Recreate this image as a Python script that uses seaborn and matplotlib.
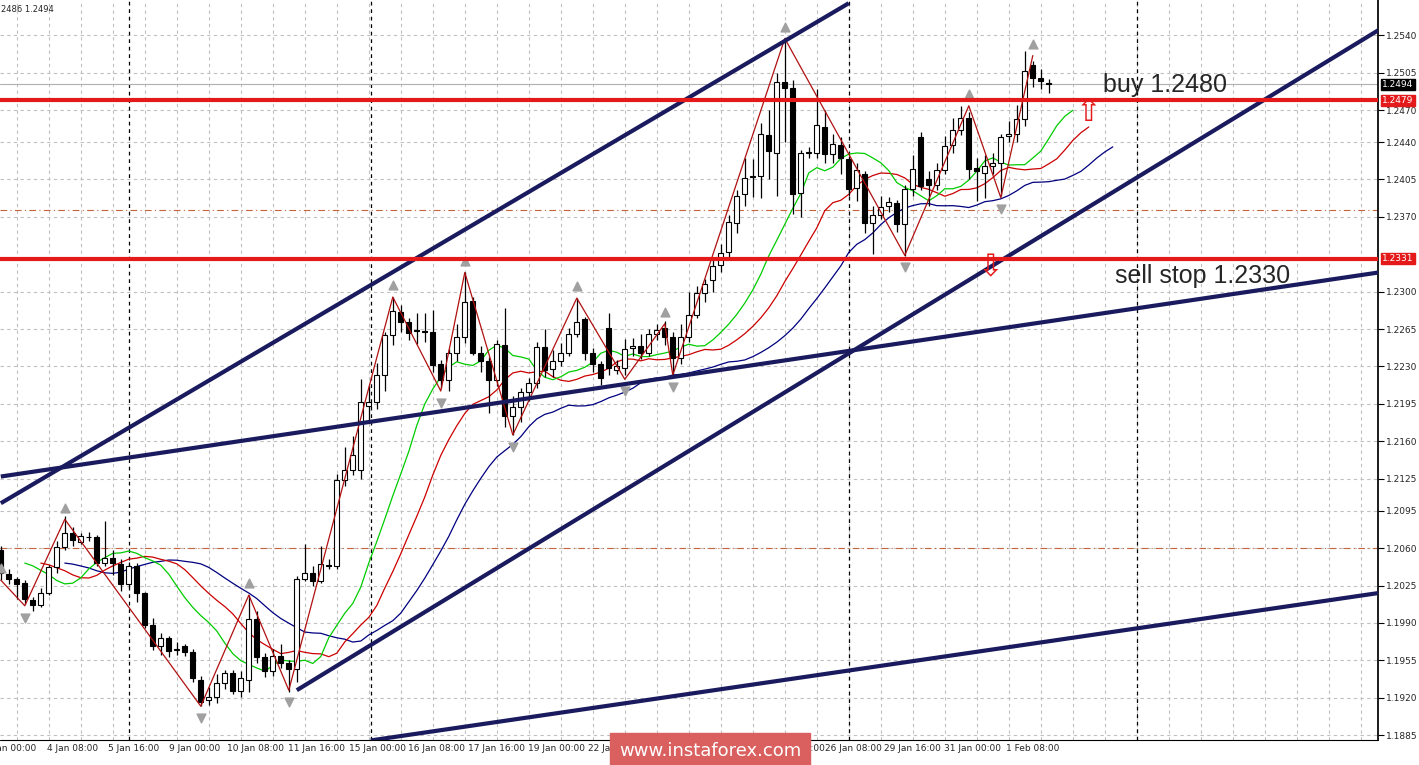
import numpy as np
import pandas as pd
import matplotlib
matplotlib.use("Agg")
import matplotlib.pyplot as plt
import seaborn as sns

# H4 candles, index = bar number from the left edge
opens = [1.2058, 1.2036, 1.2031, 1.2027, 1.2011, 1.2007, 1.2018, 1.2042, 1.2061, 1.2074,
         1.2066, 1.2070, 1.2070, 1.2046, 1.2051, 1.2045, 1.2026, 1.2043, 1.2018, 1.1988,
         1.1968, 1.1976, 1.1965, 1.1968, 1.1963, 1.1937, 1.1918, 1.1921, 1.1934, 1.1943,
         1.1926, 1.1937, 1.1994, 1.1958, 1.1945, 1.1959, 1.1952, 1.1947, 1.2031, 1.2037,
         1.2029, 1.2044, 1.2043, 1.2124, 1.2133, 1.2133, 1.2193, 1.2197, 1.2222, 1.2259,
         1.2281, 1.2272, 1.2264, 1.2263, 1.2262, 1.2232, 1.2217, 1.2243, 1.2258, 1.2291,
         1.2243, 1.2235, 1.2217, 1.2250, 1.2184, 1.2192, 1.2206, 1.2215, 1.2248, 1.2228,
         1.2235, 1.2243, 1.2260, 1.2274, 1.2243, 1.2232, 1.2266, 1.2227, 1.2229, 1.2247,
         1.2249, 1.2243, 1.2260, 1.2266, 1.2258, 1.2238, 1.2258, 1.2278, 1.2299, 1.2311,
         1.2325, 1.2337, 1.2364, 1.2391, 1.2407, 1.2408, 1.2447, 1.2430, 1.2496, 1.2491,
         1.2392, 1.2430, 1.2430, 1.2454, 1.2429, 1.2437, 1.2424, 1.2397, 1.2410, 1.2364,
         1.2372, 1.2380, 1.2383, 1.2363, 1.2396, 1.2445, 1.2405, 1.2400, 1.2414, 1.2437,
         1.2451, 1.2463, 1.2416, 1.2411, 1.2418, 1.2420, 1.2446, 1.2448, 1.2462, 1.2512,
         1.2500, 1.2495]
closes = [1.2037, 1.2031, 1.2026, 1.2012, 1.2007, 1.2018, 1.2042, 1.2061, 1.2074, 1.2068,
          1.2071, 1.2070, 1.2046, 1.2051, 1.2046, 1.2026, 1.2043, 1.2018, 1.1988, 1.1968,
          1.1976, 1.1964, 1.1966, 1.1963, 1.1938, 1.1916, 1.1921, 1.1934, 1.1943, 1.1926,
          1.1938, 1.1994, 1.1958, 1.1945, 1.1959, 1.1952, 1.1947, 1.2031, 1.2037, 1.2029,
          1.2045, 1.2043, 1.2124, 1.2133, 1.2147, 1.2197, 1.2197, 1.2222, 1.2259, 1.2282,
          1.2272, 1.2261, 1.2263, 1.2262, 1.2231, 1.2217, 1.2243, 1.2258, 1.2290, 1.2243,
          1.2235, 1.2217, 1.2251, 1.2184, 1.2192, 1.2206, 1.2215, 1.2248, 1.2227, 1.2235,
          1.2243, 1.2260, 1.2272, 1.2243, 1.2232, 1.2219, 1.2229, 1.2230, 1.2246, 1.2249,
          1.2243, 1.2260, 1.2264, 1.2258, 1.2238, 1.2258, 1.2278, 1.2299, 1.2307, 1.2324,
          1.2336, 1.2365, 1.2390, 1.2406, 1.2408, 1.2448, 1.2432, 1.2496, 1.2491, 1.2391,
          1.2430, 1.2431, 1.2456, 1.2429, 1.2438, 1.2425, 1.2396, 1.2414, 1.2364, 1.2372,
          1.2379, 1.2384, 1.2363, 1.2396, 1.2415, 1.2399, 1.2400, 1.2414, 1.2436, 1.2451,
          1.2463, 1.2415, 1.2413, 1.2418, 1.2420, 1.2445, 1.2448, 1.2462, 1.2507, 1.2500,
          1.2497, 1.2494]
highs = [1.2062, 1.2040, 1.2033, 1.2030, 1.2014, 1.2023, 1.2044, 1.2067, 1.2090, 1.2080,
         1.2074, 1.2075, 1.2072, 1.2085, 1.2058, 1.2050, 1.2047, 1.2046, 1.2019, 1.1995,
         1.1981, 1.1978, 1.1972, 1.1970, 1.1966, 1.1940, 1.1930, 1.1942, 1.1946, 1.1946,
         1.1945, 1.2016, 1.2001, 1.1962, 1.1966, 1.1970, 1.1955, 1.2034, 1.2064, 1.2043,
         1.2062, 1.2050, 1.2129, 1.2155, 1.2165, 1.2218, 1.2212, 1.2233, 1.2262, 1.2295,
         1.2288, 1.2275, 1.2280, 1.2280, 1.2283, 1.2236, 1.2246, 1.2270, 1.2318, 1.2295,
         1.2249, 1.2239, 1.2255, 1.2285, 1.2202, 1.2210, 1.2219, 1.2253, 1.2265, 1.2245,
         1.2252, 1.2266, 1.2294, 1.2276, 1.2247, 1.2235, 1.2280, 1.2236, 1.2256, 1.2257,
         1.2260, 1.2265, 1.2270, 1.2273, 1.2262, 1.2270, 1.2300, 1.2305, 1.2312, 1.2330,
         1.2345, 1.2372, 1.2395, 1.2425, 1.2424, 1.2458, 1.2470, 1.2505, 1.2537, 1.2498,
         1.2433, 1.2435, 1.2490, 1.2470, 1.2448, 1.2445, 1.2427, 1.2420, 1.2413, 1.2380,
         1.2390, 1.2389, 1.2386, 1.2400, 1.2428, 1.2449, 1.2413, 1.2420, 1.2446, 1.2463,
         1.2474, 1.2468, 1.2425, 1.2428, 1.2430, 1.2448, 1.2460, 1.2475, 1.2525, 1.2516,
         1.2508, 1.2499]
lows = [1.2030, 1.2026, 1.2012, 1.2008, 1.2001, 1.2005, 1.2016, 1.2037, 1.2058, 1.2062,
        1.2064, 1.2067, 1.2043, 1.2043, 1.2035, 1.2020, 1.2024, 1.2010, 1.1985, 1.1965,
        1.1960, 1.1958, 1.1960, 1.1959, 1.1935, 1.1912, 1.1913, 1.1915, 1.1928, 1.1923,
        1.1921, 1.1925, 1.1952, 1.1939, 1.1940, 1.1948, 1.1925, 1.1935, 1.2029, 1.2025,
        1.2027, 1.2040, 1.2040, 1.2118, 1.2128, 1.2125, 1.2180, 1.2190, 1.2207, 1.2250,
        1.2262, 1.2255, 1.2251, 1.2253, 1.2225, 1.2210, 1.2207, 1.2235, 1.2252, 1.2241,
        1.2225, 1.2186, 1.2212, 1.2173, 1.2166, 1.2178, 1.2198, 1.2210, 1.2220, 1.2220,
        1.2230, 1.2240, 1.2258, 1.2236, 1.2225, 1.2213, 1.2222, 1.2223, 1.2222, 1.2240,
        1.2237, 1.2240, 1.2255, 1.2250, 1.2222, 1.2232, 1.2253, 1.2275, 1.2290, 1.2300,
        1.2318, 1.2330, 1.2355, 1.2380, 1.2389, 1.2388, 1.2405, 1.2390, 1.2440, 1.2373,
        1.2370, 1.2425, 1.2425, 1.2420, 1.2420, 1.2410, 1.2390, 1.2385, 1.2355, 1.2335,
        1.2368, 1.2375, 1.2356, 1.2333, 1.2390, 1.2395, 1.2380, 1.2395, 1.2410, 1.2430,
        1.2447, 1.2405, 1.2385, 1.2388, 1.2410, 1.2390, 1.2440, 1.2440, 1.2455, 1.2492,
        1.2490, 1.2486]

# zigzag pivots (bar, price)
zz_bar = [0, 3, 8, 25, 31, 36, 49, 55, 58, 64, 72, 78, 83, 84, 98, 113, 121, 125, 129]
zz_price = [1.2030, 1.2006, 1.2087, 1.1912, 1.2016, 1.1927, 1.2295, 1.2207, 1.2318, 1.2166,
            1.2294, 1.2218, 1.2270, 1.2222, 1.2537, 1.2334, 1.2474, 1.2388, 1.2521]

# trend lines: (bar0, price0, bar1, price1)
trend_lines = [(0, 1.2102, 106, 1.2570),
               (37, 1.1927, 172.25, 1.2545),
               (0, 1.2127, 172.25, 1.2318),
               (46.25, 1.1880, 172.25, 1.2018)]

levels_red = [1.2479, 1.2331]
levels_dash = [1.2376, 1.2060]
current_price = 1.2494

y_ticks = [1.2540, 1.2505, 1.2470, 1.2440, 1.2405, 1.2370, 1.2300, 1.2265, 1.2230, 1.2195,
           1.2160, 1.2125, 1.2095, 1.2060, 1.2025, 1.1990, 1.1955, 1.1920, 1.1885]
time_labels = ["3 Jan 00:00", "4 Jan 08:00", "5 Jan 16:00", "9 Jan 00:00", "10 Jan 08:00",
               "11 Jan 16:00", "15 Jan 00:00", "16 Jan 08:00", "17 Jan 16:00", "19 Jan 00:00",
               "22 Jan 08:00", "23 Jan 16:00", "24 Jan 00:00", "25 Jan 08:00", "26 Jan 08:00",
               "29 Jan 16:00", "31 Jan 00:00", "1 Feb 08:00"]
time_bars = [1.2, 9, 16.6, 24.2, 31.8, 39.4, 47.1, 54.5, 62, 69.5, 77, 84.5, 92, 99.5, 106.6, 114,
             121.5, 129]
separators = [16, 46.25, 106, 142]

sns.set_theme(style="white")
plt.rcParams['font.family'] = ['DejaVu Sans']

df = pd.DataFrame({"open": opens, "close": closes, "high": highs, "low": lows})
df["bar"] = np.arange(len(df))
median = (df["high"] + df["low"]) / 2

fig = plt.figure(figsize=(14.19, 7.65), dpi=100)
ax = fig.add_axes([0, 25 / 765, 1378 / 1419, 740 / 765])

# grid
for yt in y_ticks:
    ax.axhline(yt, color="#c0c0c0", lw=0.8, ls=(0, (3, 3)), zorder=0)
for xb in np.arange(2, 172, 4):
    ax.axvline(xb, color="#c0c0c0", lw=0.8, ls=(0, (3, 3)), zorder=0)
for xb in separators:
    ax.axvline(xb, color="black", lw=0.9, ls=(0, (3, 3)), zorder=1)

# alligator lines (smoothed median price, shifted forward)
for n, shift, col in [(13, 8, "#000080"), (8, 5, "#cc0000"), (5, 3, "#00cc00")]:
    sm = median.ewm(alpha=1 / n, adjust=False).mean()
    line = pd.DataFrame({"bar": df["bar"] + shift, "val": sm})
    sns.lineplot(data=line, x="bar", y="val", color=col, lw=0.9, ax=ax, zorder=2)

for yl in levels_dash:
    ax.axhline(yl, color="#c8643c", lw=0.8, ls=(0, (6, 3, 1, 3)), zorder=1)
ax.axhline(current_price, color="#b0b0b0", lw=0.8, zorder=1)

# candles
up = df["close"] >= df["open"]
ax.vlines(df["bar"], df["low"], df["high"], color="black", lw=0.9, zorder=3)
ax.bar(df["bar"], (df["close"] - df["open"]).abs().clip(lower=0.00008),
       bottom=df[["open", "close"]].min(axis=1), width=0.65,
       color=np.where(up, "white", "black"), edgecolor="black", lw=0.8, zorder=4)

# zigzag
zz = pd.DataFrame({"bar": zz_bar, "price": zz_price})
sns.lineplot(data=zz, x="bar", y="price", color="#b01010", lw=0.9, ax=ax, zorder=5)
hi = zz[zz["price"].diff().fillna(1) > 0]
lo = zz[zz["price"].diff().fillna(1) <= 0]
ax.scatter(hi["bar"], hi["price"] + 0.0011, marker="^", s=40, color="#a0a0a0", zorder=5)
ax.scatter(lo["bar"], lo["price"] - 0.0011, marker="v", s=40, color="#a0a0a0", zorder=5)

for b0, p0, b1, p1 in trend_lines:
    ax.plot([b0, b1], [p0, p1], color="#1a1a5e", lw=3, zorder=6, solid_capstyle="butt")
for yl in levels_red:
    ax.axhline(yl, color="#e41a1a", lw=3, zorder=6)

ax.text(137.8, 1.2493, "buy 1.2480", fontsize=18, family="Liberation Sans", va="center", zorder=7)
ax.text(139.3, 1.2315, "sell stop 1.2330", fontsize=18, family="Liberation Sans", va="center", zorder=7)
ax.text(136, 1.2468, "\u21e7", fontsize=22, color="#e41a1a", ha="center", va="center", zorder=7)
ax.text(123.7, 1.2322, "\u21e9", fontsize=22, color="#e41a1a", ha="center", va="center", zorder=7)

# axes styling
ax.set_xlim(-0.1, 172.15)
ax.set_ylim(1.18804, 1.2573)
for s in ["top", "left", "bottom"]:
    ax.spines[s].set_visible(False)
ax.spines["right"].set_color("black")
ax.yaxis.tick_right()
ax.set_yticks(y_ticks)
ax.set_yticklabels([f"{v:.4f}" for v in y_ticks], fontsize=6.5)
ax.tick_params(axis="y", length=4, width=0.8, color="black", pad=2, right=True)
ax.set_xticks(time_bars)
ax.set_xticklabels(time_labels, fontsize=6.5)
ax.tick_params(axis="x", length=0, pad=3)
ax.set_xlabel("")
ax.set_ylabel("")
ax.grid(False)
ax.plot([0, 1], [0, 0], transform=ax.transAxes, color="black", lw=0.8, clip_on=False)

# price boxes on the scale
for val, bg in [(current_price, "black"), (1.2479, "#e41a1a"), (1.2331, "#e41a1a")]:
    ax.text(1.003, val, f"{val:.4f}", transform=ax.get_yaxis_transform(), fontsize=6.5,
            color="white", va="center", ha="left",
            bbox=dict(boxstyle="square,pad=0.15", fc=bg, ec=bg), zorder=8)

fig.text(0.001, 0.993, "2486 1.2494", fontsize=6, va="top")
fig.text(710 / 1419, 14 / 765, "www.instaforex.com", fontsize=13,
         color="white", ha="center", va="center",
         bbox=dict(boxstyle="square,pad=0.5", fc="#d9605e", ec="#d9605e"), zorder=10)

fig.savefig("out.png", dpi=100)
